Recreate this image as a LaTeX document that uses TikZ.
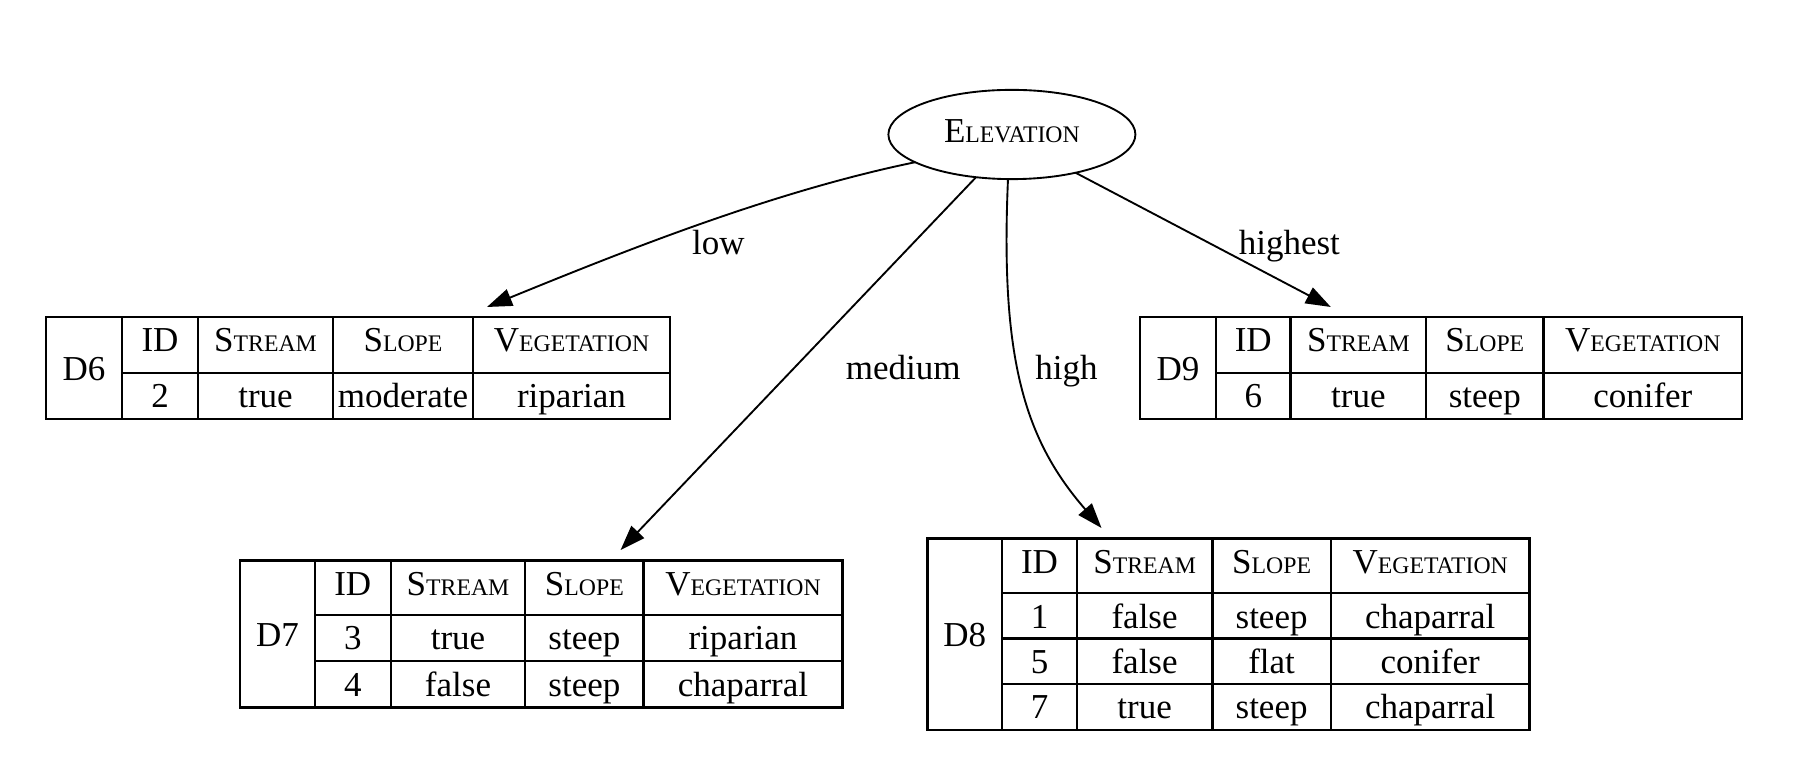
\documentclass[tikz,border=0pt]{standalone}
\usepackage{fontspec}
\setmainfont{Liberation Serif}
\usetikzlibrary{arrows.meta,shapes.geometric,calc}
\newcommand\fakesc[2]{#1{\fontsize{9.5pt}{11pt}\selectfont #2}}
\newcommand\tabrow[3]{\foreach \cx/\ct [count=\ci] in {#3} {\node[cell] (#1-\ci) at (\cx,#2) {\ct};}}
\begin{document}
\begin{tikzpicture}[x=0.4pt,y=-0.4pt,
  every node/.style={font=\fontsize{14pt}{16pt}\selectfont, inner sep=0pt, outer sep=0pt},
  cell/.style={anchor=base},
  tbl/.style={draw, line width=0.9pt, rectangle},
  gridline/.style={line width=0.9pt},
  edge/.style={line width=0.75pt, -{Triangle[length=10pt,width=7pt]}},
  elabel/.style={anchor=base},
  rootnode/.style={ellipse, draw, line width=0.75pt, minimum width=98.8pt, minimum height=35.7pt, text height=9.3pt, text depth=2.7pt}
]
\useasboundingbox (0,0) rectangle (1802,764);

% root
\node[rootnode] (elev) at (1011.9,134.5) {\fakesc{E}{LEVATION}};

% ---------- D6 ----------
\node[tbl, minimum width=249.6pt, minimum height=40.92pt] (D6) at (358,367.95) {};
\foreach \vx in {122,198,333,473} \draw[gridline] (\vx,316.8) -- (\vx,419.1);
\draw[gridline] (122,372.8) -- (670,372.8);
\node[cell] (D6-lab) at (84,380.5) {D6};
\tabrow{D6h}{351.8}{160/ID,265.5/\fakesc{S}{TREAM},403/\fakesc{S}{LOPE},571.5/\fakesc{V}{EGETATION}}
\tabrow{D6r1}{407.5}{160/2,265.5/true,403/moderate,571.5/riparian}

% ---------- D9 ----------
\node[tbl, minimum width=240.88pt, minimum height=40.92pt] (D9) at (1441.1,367.95) {};
\foreach \vx in {1215.9,1290.6,1426.2,1543.4} \draw[gridline] (\vx,316.8) -- (\vx,419.1);
\draw[gridline] (1215.9,372.8) -- (1742.2,372.8);
\node[cell] (D9-lab) at (1178,380.5) {D9};
\tabrow{D9h}{351.8}{1253.3/ID,1358.4/\fakesc{S}{TREAM},1484.8/\fakesc{S}{LOPE},1642.8/\fakesc{V}{EGETATION}}
\tabrow{D9r1}{407.5}{1253.3/6,1358.4/true,1484.8/steep,1642.8/conifer}

% ---------- D7 ----------
\node[tbl, minimum width=240.88pt, minimum height=58.88pt] (D7) at (541.3,634) {};
\foreach \vx in {314.9,390.7,525.2,643.6} \draw[gridline] (\vx,560.4) -- (\vx,707.6);
\foreach \hy in {615,661.3} \draw[gridline] (314.9,\hy) -- (842.4,\hy);
\node[cell] (D7-lab) at (277.6,646.5) {D7};
\tabrow{D7h}{595.4}{352.8/ID,458/\fakesc{S}{TREAM},584.4/\fakesc{S}{LOPE},743/\fakesc{V}{EGETATION}}
\tabrow{D7r1}{650}{352.8/3,458/true,584.4/steep,743/riparian}
\tabrow{D7r2}{696.3}{352.8/4,458/false,584.4/steep,743/chaparral}

% ---------- D8 ----------
\node[tbl, minimum width=240.88pt, minimum height=76.6pt] (D8) at (1228.5,634.25) {};
\foreach \vx in {1002.1,1076.8,1212.4,1330.8} \draw[gridline] (\vx,538.5) -- (\vx,730);
\foreach \hy in {593.1,638.4,683.7} \draw[gridline] (1002.1,\hy) -- (1529.6,\hy);
\node[cell] (D8-lab) at (964.8,646.75) {D8};
\tabrow{D8h}{573.5}{1039.5/ID,1144.6/\fakesc{S}{TREAM},1271.6/\fakesc{S}{LOPE},1430.2/\fakesc{V}{EGETATION}}
\tabrow{D8r1}{628.1}{1039.5/1,1144.6/false,1271.6/steep,1430.2/chaparral}
\tabrow{D8r2}{673.4}{1039.5/5,1144.6/false,1271.6/flat,1430.2/conifer}
\tabrow{D8r3}{718.7}{1039.5/7,1144.6/true,1271.6/steep,1430.2/chaparral}

% ---------- arrow tips just above the tables ----------
\coordinate (D6tip) at ($(D6.north west)+(441,-9.8)$);
\coordinate (D7tip) at ($(D7.north west)+(380.4,-10.4)$);
\coordinate (D8tip) at ($(D8.north west)+(174.1,-10.5)$);
\coordinate (D9tip) at ($(D9.north west)+(190.8,-9.8)$);

% ---------- edges ----------
\draw[edge] (elev.196.3) .. controls (770,192) and (617,254) .. (D6tip);
\draw[edge] (elev.230.1) -- (D7tip);
\draw[edge] (elev.265) .. controls (1000,360) and (1025,440) .. (D8tip);
\draw[edge] (elev.329.6) -- (D9tip);

% ---------- edge labels ----------
\node[elabel] (l-low) at (718.3,254.5) {low};
\node[elabel] (l-medium) at (903.3,380) {medium};
\node[elabel] (l-high) at (1066.5,380) {high};
\node[elabel] (l-highest) at (1289.4,254.5) {highest};
\end{tikzpicture}
\end{document}
